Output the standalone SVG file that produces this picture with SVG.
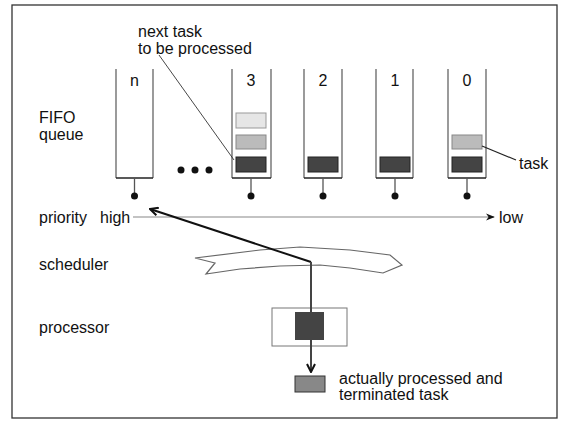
<svg xmlns="http://www.w3.org/2000/svg" width="567" height="422" viewBox="0 0 567 422">
<style>
text{font-family:"Liberation Sans",Arial,sans-serif;font-size:16px;fill:#111}
.wall{fill:none;stroke:#666;stroke-width:1.3}
.base{fill:none;stroke:#222;stroke-width:1.3}
.stem{stroke:#555;stroke-width:1.3}
.dot{fill:#111}
.dark{fill:#444;stroke:#222;stroke-width:1}
.mid{fill:#bbb;stroke:#888;stroke-width:1}
.light{fill:#e6e6e6;stroke:#999;stroke-width:1}
</style>
<defs>
<marker id="open" viewBox="0 0 10 10" refX="9" refY="5" markerWidth="10" markerHeight="10" markerUnits="userSpaceOnUse" orient="auto">
<path d="M1,1 L9,5 L1,9" fill="none" stroke="#111" stroke-width="2"/>
</marker>
<marker id="small" viewBox="0 0 10 10" refX="9" refY="5" markerWidth="9" markerHeight="9" markerUnits="userSpaceOnUse" orient="auto">
<path d="M0,1 L10,5 L0,9 L3,5 Z" fill="#111"/>
</marker>
</defs>
<rect x="12" y="5" width="545" height="413" fill="#fff" stroke="#333" stroke-width="1.3"/>

<g id="labels">
<text x="39" y="123">FIFO</text>
<text x="39" y="140">queue</text>
<text x="39" y="223">priority</text>
<text x="100" y="223">high</text>
<text x="499" y="223">low</text>
<text x="39" y="270">scheduler</text>
<text x="39" y="333">processor</text>
</g>

<g id="note">
<text x="138" y="37">next task</text>
<text x="138" y="54">to be processed</text>
</g>

<g id="queue-n">
<path class="wall" d="M116,69 V178 M153,69 V178"/>
<path class="base" d="M116,178 H153"/>
<line class="stem" x1="134.5" y1="178" x2="134.5" y2="193"/>
<circle class="dot" cx="134.5" cy="196" r="3.5"/>
<text x="134.5" y="86" text-anchor="middle">n</text>
</g>

<g id="ellipsis">
<circle class="dot" cx="181" cy="170" r="3.5"/>
<circle class="dot" cx="195" cy="170" r="3.5"/>
<circle class="dot" cx="209" cy="170" r="3.5"/>
</g>

<g id="queue-3">
<path class="wall" d="M232,69 V178 M271,69 V178"/>
<path class="base" d="M232,178 H271"/>
<rect class="light" x="236" y="113" width="30" height="15"/>
<rect class="mid" x="236" y="135" width="30" height="14"/>
<rect class="dark" x="236" y="157" width="30" height="15"/>
<line class="stem" x1="251" y1="178" x2="251" y2="193"/>
<circle class="dot" cx="251" cy="196" r="3.5"/>
<text x="251" y="86" text-anchor="middle">3</text>
</g>

<g id="queue-2">
<path class="wall" d="M304,69 V178 M342,69 V178"/>
<path class="base" d="M304,178 H342"/>
<rect class="dark" x="308" y="157" width="30" height="15"/>
<line class="stem" x1="323" y1="178" x2="323" y2="193"/>
<circle class="dot" cx="323" cy="196" r="3.5"/>
<text x="323" y="86" text-anchor="middle">2</text>
</g>

<g id="queue-1">
<path class="wall" d="M376,69 V178 M413,69 V178"/>
<path class="base" d="M376,178 H413"/>
<rect class="dark" x="380" y="157" width="30" height="15"/>
<line class="stem" x1="395" y1="178" x2="395" y2="193"/>
<circle class="dot" cx="395" cy="196" r="3.5"/>
<text x="395" y="86" text-anchor="middle">1</text>
</g>

<g id="queue-0">
<path class="wall" d="M448,69 V178 M486,69 V178"/>
<path class="base" d="M448,178 H486"/>
<rect class="mid" x="452" y="135" width="30" height="14"/>
<rect class="dark" x="452" y="157" width="30" height="15"/>
<line class="stem" x1="467" y1="178" x2="467" y2="193"/>
<circle class="dot" cx="467" cy="196" r="3.5"/>
<text x="467" y="86" text-anchor="middle">0</text>
<text x="519" y="169">task</text>
</g>

<g id="scheduler">
<path d="M195,258 L215,263 L206,274 L240,269 L280,266 L320,265 L350,268 L383,273 L402,265 L390,255 L350,250 L300,247 L260,250 Z" fill="#fff" stroke="#666" stroke-width="1.2"/>
</g>

<g id="processor">
<rect x="272" y="308" width="75" height="38" fill="#fff" stroke="#777" stroke-width="1"/>
<rect x="295" y="312" width="29" height="28" fill="#444"/>
</g>

<g id="terminated">
<rect x="295" y="376" width="30" height="16" fill="#888" stroke="#333" stroke-width="1"/>
<text x="339" y="384">actually processed and</text>
<text x="339" y="400">terminated task</text>
</g>

<g id="connectors">
<line x1="159" y1="55" x2="234" y2="160" stroke="#333" stroke-width="0.9"/>
<line x1="482" y1="146" x2="516" y2="160" stroke="#222" stroke-width="1.2"/>
<line x1="133" y1="217" x2="494" y2="217" stroke="#888" stroke-width="1.2" marker-end="url(#small)"/>
<line x1="311" y1="262" x2="150" y2="209" stroke="#111" stroke-width="2" marker-end="url(#open)"/>
<line x1="311" y1="262" x2="311" y2="372" stroke="#444" stroke-width="2" marker-end="url(#open)"/>
</g>
</svg>
